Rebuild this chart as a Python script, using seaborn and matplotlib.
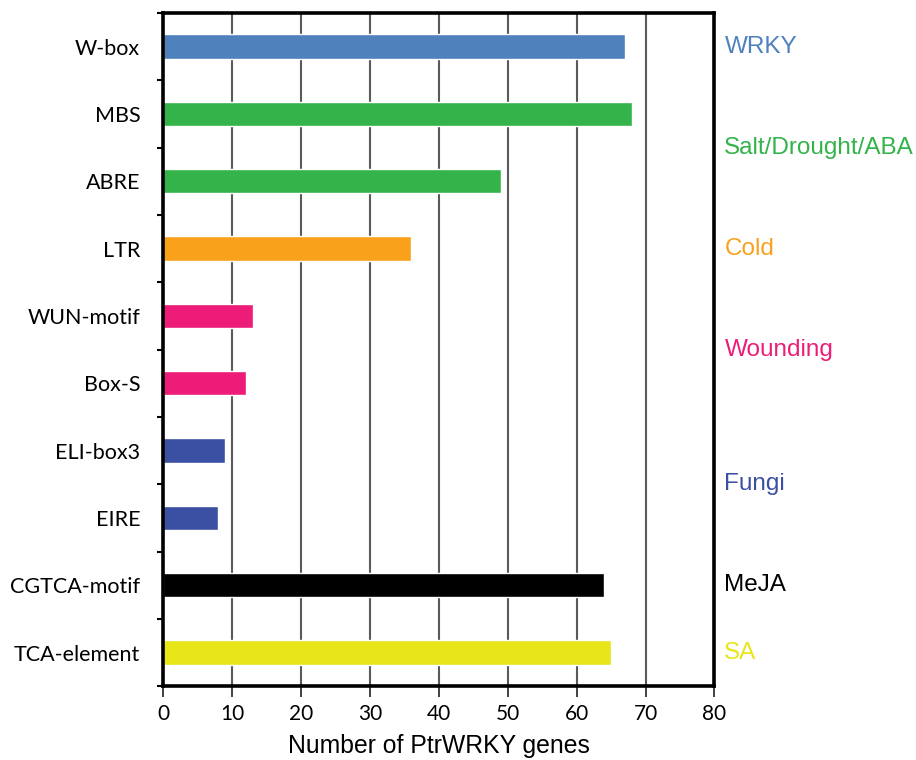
import matplotlib
matplotlib.use('Agg')
import matplotlib.pyplot as plt
import matplotlib.transforms as mtransforms
import seaborn as sns
import pandas as pd
import numpy as np

# elementos cis y numero de genes
elements = ['W-box', 'MBS', 'ABRE', 'LTR', 'WUN-motif', 'Box-S',
            'ELI-box3', 'EIRE', 'CGTCA-motif', 'TCA-element']
counts = [67, 68, 49, 36, 13, 12, 9, 8, 64, 65]
bar_colors = ['#4F81BD', '#33B34A', '#33B34A', '#F9A11B', '#EC1C78', '#EC1C78',
              '#3B50A3', '#3B50A3', '#000000', '#E6E619']

# grupos de respuesta (etiquetas a la derecha)
groups = ['WRKY', 'Salt/Drought/ABA', 'Cold', 'Wounding', 'Fungi', 'MeJA', 'SA']
group_members = [['W-box'], ['MBS', 'ABRE'], ['LTR'], ['WUN-motif', 'Box-S'],
                 ['ELI-box3', 'EIRE'], ['CGTCA-motif'], ['TCA-element']]
group_colors = ['#4F81BD', '#33B34A', '#F9A11B', '#EC1C78', '#3B50A3', '#000000', '#E6E619']

df = pd.DataFrame({'element': elements, 'count': counts})

sns.set_style('white', {'ytick.left': True, 'xtick.bottom': True})
fig = plt.figure(figsize=(9.16, 7.6), dpi=100)
ax = fig.add_axes([0.178, 0.097, 0.602, 0.886])

sns.barplot(data=df, x='count', y='element', hue='element', palette=bar_colors,
            orient='h', width=0.36, legend=False, saturation=1, ax=ax)

ax.set_xlim(0, 80)
ax.set_ylim(9.5, -0.5)
ax.set_xticks(np.arange(0, 81, 10))
ax.xaxis.grid(True, color='#5a5a5a', linewidth=1.5)
ax.set_axisbelow(True)

# ticks del eje y en los limites de categoria
ax.set_yticks(np.arange(10))
ax.set_yticklabels(elements, fontfamily='Lato', fontsize=15.5, color='black')
ax.set_yticks(np.arange(-0.5, 10, 1), minor=True)
ax.tick_params(axis='y', which='major', left=False, length=0, pad=16.5)
ax.tick_params(axis='y', which='minor', left=True, length=4, width=1.5,
               direction='out', color='black')
ax.tick_params(axis='x', bottom=True, length=8, width=1.3, direction='out',
               color='#333333', pad=5, labelcolor='black')
for lab in ax.get_xticklabels():
    lab.set_fontfamily('Lato')
    lab.set_fontsize(15)

for side in ['left', 'right', 'top', 'bottom']:
    ax.spines[side].set_visible(True)
    ax.spines[side].set_color('black')
    ax.spines[side].set_linewidth(2.6)

ax.set_ylabel('')
ax.set_xlabel('Number of PtrWRKY genes', fontfamily='Liberation Sans', fontsize=17.8,
              labelpad=7, color='black')

# etiquetas de grupo a la derecha
trans = mtransforms.blended_transform_factory(ax.transAxes, ax.transData)
for name, members, col in zip(groups, group_members, group_colors):
    ypos = np.mean([elements.index(m) for m in members])
    ax.text(1.018, ypos, name, transform=trans, color=col, fontsize=17.5,
            fontfamily='Liberation Sans', va='center', ha='left')

plt.savefig('out.png', dpi=100)
